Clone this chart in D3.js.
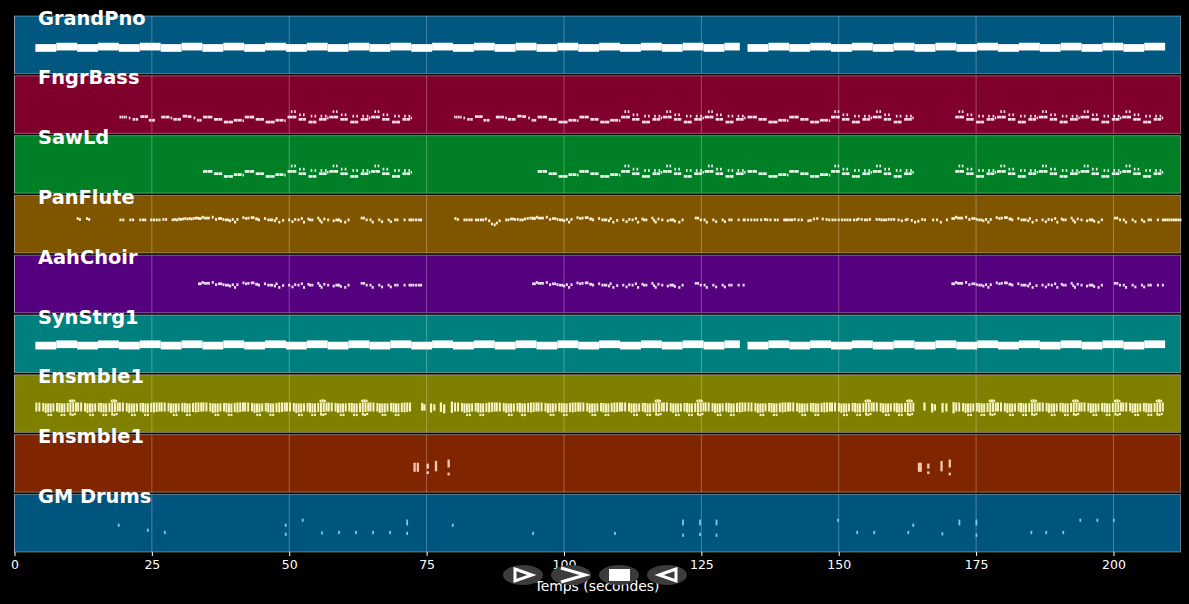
<!DOCTYPE html>
<html>
<head>
<meta charset="utf-8">
<script src="https://cdn.jsdelivr.net/npm/d3@7"></script>
<style>
html, body { margin: 0; padding: 0; background: #000; }
svg { display: block; }
text { font-family: "DejaVu Sans", sans-serif; fill: #fff; }
</style>
</head>
<body>
<div id="chart"></div>
<script>
var svgWidth = 1189;
var svgHeight = 604;

var trackNames = ["GrandPno", "FngrBass", "SawLd", "PanFlute", "AahChoir", "SynStrg1", "Ensmble1", "Ensmble1 ", "GM Drums"];
var trackColors = ["#00577f", "#7f002c", "#007f27", "#7f5500", "#55007f", "#007f7f", "#7f7f00", "#7f2600", "#00557f"];
var tickValues = [0, 25, 50, 75, 100, 125, 150, 175, 200];

// piano + strings blocks: start (s), low pitch, high pitch
var blockStarts = [3.8, 7.6, 11.4, 15.2, 19, 22.8, 26.6, 30.4, 34.2, 38, 41.8, 45.6, 49.4, 53.2, 57, 60.8, 64.6, 68.4, 72.2, 76, 79.8, 83.6, 87.4, 91.2, 95, 98.8, 102.6, 106.4, 110.2, 114, 117.8, 121.6, 125.4, 129.2,
  133.4, 137.2, 141, 144.8, 148.6, 152.4, 156.2, 160, 163.8, 167.6, 171.4, 175.2, 179, 182.8, 186.6, 190.4, 194.2, 198, 201.8, 205.6];
var blockDurs = [3.8, 3.8, 3.8, 3.8, 3.8, 3.8, 3.8, 3.8, 3.8, 3.8, 3.8, 3.8, 3.8, 3.8, 3.8, 3.8, 3.8, 3.8, 3.8, 3.8, 3.8, 3.8, 3.8, 3.8, 3.8, 3.8, 3.8, 3.8, 3.8, 3.8, 3.8, 3.8, 3.8, 2.8,
  3.8, 3.8, 3.8, 3.8, 3.8, 3.8, 3.8, 3.8, 3.8, 3.8, 3.8, 3.8, 3.8, 3.8, 3.8, 3.8, 3.8, 3.8, 3.8, 3.8];
var blockLow = [48, 51, 48, 51, 48, 51, 48, 51, 48, 51, 48, 51, 48, 51, 48, 51, 48, 51, 48, 51, 48, 51, 48, 51, 48, 51, 48, 51, 48, 51, 48, 51, 48, 51,
  48, 51, 48, 51, 48, 51, 48, 51, 48, 51, 48, 51, 48, 51, 48, 51, 48, 51, 48, 51];
var blockHigh = [65, 68, 65, 68, 65, 68, 65, 68, 65, 68, 65, 68, 65, 68, 65, 68, 65, 68, 65, 68, 65, 68, 65, 68, 65, 68, 65, 68, 65, 68, 65, 68, 65, 68,
  65, 68, 65, 68, 65, 68, 65, 68, 65, 68, 65, 68, 65, 68, 65, 68, 65, 68, 65, 68];
var synthTranspose = 3;

// bass riffs: [offset, pitch, duration]
var riffA = [[0, 36, .28], [.36, 36, .28], [.73, 36, .28], [1.1, 36, .28], [1.7, 34, .3], [2.4, 31, .45], [2.95, 31, .45], [3.8, 37, .7], [4.55, 37, .65], [5.35, 29, .5], [5.95, 29, .5],
  [7.6, 36, .75], [8.4, 36, .7], [9.3, 34, .3], [9.8, 31, .65], [10.55, 31, .65], [11.5, 38, .8], [12.4, 37, .7], [13.5, 34, .3], [14.1, 29, .4], [14.55, 29, .4]];
var riffB = [[0, 36, .85], [.92, 36, .8], [2, 31, .75], [2.8, 31, .7], [3.8, 25, .8], [4.65, 25, .8], [5.6, 29, .7], [6.35, 29, .7], [7.2, 28, .25]];
var riffC = [[0, 36, .8], [.85, 36, .75], [.6, 48, .3], [1.2, 48, .3], [2, 31, .65], [2.7, 31, .65], [2.1, 41, .3], [2.8, 41, .3], [3.8, 25, .7], [4.55, 25, .7], [4.2, 38, .3], [4.9, 38, .3],
  [5.7, 31, .7], [6.45, 31, .65], [6, 38, .3], [6.8, 38, .3], [7.2, 34, .25]];
var riffAStarts = [19.1, 80];
var riffBStarts = [34.3, 41.9, 95.2, 102.8, 133.4, 141];
var riffCStarts = [49.7, 57.3, 64.9, 110.4, 118, 125.6, 148.6, 156.2, 171.2, 178.8, 186.4, 194, 201.6];

// lead phrase (choir pitch, flute plays it an octave up): [offset, pitch]
var lead = [[0, 64], [.3, 64], [.67, 67], [1.03, 65], [1.4, 65], [1.76, 65], [2.49, 67], [3.09, 62], [3.64, 64], [4, 64], [4.43, 62], [4.9, 61], [5.28, 61], [5.64, 59], [6.13, 62], [6.55, 56], [6.98, 62],
  [8.07, 66], [8.56, 64], [8.98, 65], [9.59, 66], [9.89, 66], [10.4, 63], [10.6, 63], [10.9, 61], [12, 64], [12.6, 61], [13, 61], [13.3, 61], [13.8, 59], [14.1, 64], [14.6, 56], [15.3, 60],
  [16.4, 61], [17, 57], [17.5, 62], [18.1, 61], [18.7, 64], [19.1, 56], [19.9, 63], [20.2, 61], [20.6, 61], [21.7, 65], [22, 60], [22.3, 56], [22.8, 63], [23.5, 61], [24.5, 59], [25, 61], [25.3, 61], [25.5, 61], [25.8, 58], [26.6, 56], [27.2, 61],
  [29.6, 65], [30, 65], [30.5, 61], [31.2, 61], [31.6, 56], [32.8, 61], [33.3, 57], [34.5, 61], [34.9, 57], [35.7, 61], [36.1, 61], [37.4, 61], [38.3, 61]];
var leadStarts = [33.4, 94.2, 170.5];
var leadTail = [72, 72.4, 72.9, 73.4, 73.8];
var leadNoteDur = .38;

var fluteFillTimes = [11.3, 11.7, 13, 13.4, 19.1, 19.6, 20.9, 21.4, 22.7, 23.2, 23.6, 24.7, 25.2, 25.7, 26.2, 26.9, 27.4, 28.6, 29, 29.4, 29.8, 30.1, 30.5, 30.9, 31.3, 31.7, 32, 32.4, 32.8, 33.1,
  80.05, 80.5, 81.7, 82.1, 82.6, 83, 83.8, 84.2, 84.7, 85.1, 85.6, 86.2, 86.7, 87.2, 87.6, 88.1, 89.3, 89.7, 90.2, 90.5, 90.9, 91.4, 91.9, 92.3, 92.7, 93.2, 93.7, 94.1,
  132.7, 133.3, 133.9, 134.5, 135, 135.7, 136.4, 136.8, 137.4, 138.2, 138.7, 139.9, 140.2, 140.5, 140.9, 141.3, 141.8, 142.5, 143.1, 144.3, 144.7, 145.3, 145.9, 146.9, 147.6, 148.1, 148.7, 149.2, 149.8, 150.4, 150.9, 151.4, 151.9, 152.6, 153.1, 153.4, 154, 154.6, 155, 155.5, 156.7, 157.2, 157.6, 158, 158.4, 158.9, 159.4, 159.9, 160.7, 161.3, 162, 162.3, 163.1, 163.7, 164.3, 165, 165.5, 167, 167.7, 168.4, 169.5,
  209.2, 209.6, 210, 210.4, 210.8, 211.2, 211.6, 212];
var fluteFillPitch = [76, 74, 76, 74, 73, 73, 73, 73, 73, 73, 73, 73, 73, 73, 73, 74, 74, 73, 74, 73, 75, 74, 75, 76, 75, 76, 75, 76, 77, 77,
  76, 74, 73, 73, 73, 73, 73, 73, 73, 73, 75, 71, 64, 62, 66, 71, 73, 73, 75, 75, 74, 74, 73, 73, 75, 76, 77, 77,
  73, 73, 73, 73, 73, 73, 74, 73, 73, 73, 73, 73, 73, 73, 73, 73, 74, 73, 73, 71, 72, 75, 76, 75, 74, 73, 73, 73, 73, 73, 73, 73, 73, 73, 73, 75, 74, 73, 73, 74, 74, 74, 73, 73, 73, 74, 74, 74, 73, 71, 73, 74, 72, 68, 70, 74, 73, 73, 73, 68, 73, 73, 73,
  73, 73, 73, 73, 73, 73, 73, 73];

// strings stripes: [offset, low pitch, high pitch], every 7.6 s unit
var stringUnit = [[0, 46, 66], [.55, 46, 66], [1.25, 46, 65], [1.7, 43, 64], [2.15, 44, 64], [2.6, 44, 64], [3.1, 46, 64], [3.75, 46, 65], [4.2, 44, 65], [4.65, 44, 64], [5.1, 44, 64], [5.7, 45, 65], [6.2, 44, 66], [6.7, 45, 66], [7.2, 46, 66]];
var stringLows = [[2.2, 36, 41], [2.7, 36, 41], [4.6, 36, 41], [5.1, 36, 41]];
var stringBump = [[6.1, 67, 72], [6.5, 66, 73], [6.9, 67, 72], [6.2, 37, 43], [6.6, 36, 41], [7, 38, 43]];
var stringStarts = [3.8, 11.4, 19, 26.6, 34.2, 41.8, 49.4, 57, 64.6, 80, 87.6, 95.2, 102.8, 110.4, 118, 125.6, 133.4, 141, 148.6, 156.2, 171.2, 178.8, 186.4, 194, 201.6];
var stringBumpStarts = [3.8, 11.4, 49.4, 57, 110.4, 118, 148.6, 156.2, 171.2, 178.8, 186.4, 194, 201.6];
var stringSparse = [[74, 48, 65], [74.4, 48, 62], [75.6, 44, 64], [76.2, 48, 62], [77.4, 45, 66], [78, 42, 62], [79.4, 43, 68], [165.4, 48, 66], [166.8, 44, 64], [167.3, 48, 62], [168.7, 44, 65], [169.4, 46, 64], [170.7, 42, 67]];

// second Ensmble1: [time, low, high]
var ens2Stripes = [[72.6, 45, 65], [73.2, 45, 65], [75, 52, 63], [75, 40, 46], [76.5, 46, 69], [78.8, 54.5, 72], [78.8, 37, 43], [164.4, 45, 65], [164.7, 45, 65], [166.1, 52, 63], [166.1, 40, 46], [168.5, 46, 69], [170, 54.5, 72], [170, 37, 43]];

var drumTimes = [18.8, 24.1, 27.2, 49.2, 49.2, 52.3, 55.8, 58.9, 62, 65.1, 68.2, 71.3, 71.3, 71.3, 79.6, 94.2, 109.1, 121.5, 121.5, 121.5, 124.6, 124.6, 124.6, 127.6, 127.6, 127.6, 149.7, 153.2, 156.3, 162.5, 163.4, 168.7, 171.8, 171.8, 174.9, 174.9, 174.9, 184.9, 187.6, 190.7, 193.8, 196.9, 199.9];
var drumPitch = [59, 48, 43, 59, 39, 70, 42, 43, 43, 43, 43, 68, 62, 41, 59, 41, 41, 68, 62, 37, 68, 62, 39, 68, 62, 37, 70, 43, 43, 43, 59, 40, 68, 62, 68, 62, 37, 43, 43, 43, 70, 70, 70];

var x = d3.scaleLinear().domain([0, 212.2]).range([14.5, 1180.5]);
var bands = d3.scaleBand().domain(trackNames).range([16, 552]).paddingInner(0.037);
var y = d3.scaleLinear().domain([0, 127]).range([bands.bandwidth(), 0]);

var svg = d3.select("#chart").append("svg")
  .attr("width", svgWidth)
  .attr("height", svgHeight)
  .style("background", "#000");

function expand(riff, starts, shift, half) {
  var out = [];
  starts.forEach(function(s) {
    riff.forEach(function(n) {
      out.push({ t: s + n[0], lo: n[1] + shift - half, hi: n[1] + shift + half, d: n[2] });
    });
  });
  return out;
}

function stripes(unit, starts, w) {
  var out = [];
  starts.forEach(function(s) {
    unit.forEach(function(n) {
      out.push({ t: s + n[0], lo: n[1], hi: n[2], d: w });
    });
  });
  return out;
}

function blocks(shift) {
  return blockStarts.map(function(s, i) {
    return { t: s, lo: blockLow[i] + shift, hi: blockHigh[i] + shift, d: blockDurs[i] };
  });
}

var bassNotes = expand(riffA, riffAStarts, 0, 3).concat(expand(riffB, riffBStarts, 0, 3), expand(riffC, riffCStarts, 0, 3));
var sawNotes = expand(riffB, riffBStarts, 12, 3).concat(expand(riffC, riffCStarts, 12, 3));

var leadRiff = lead.map(function(n) { return [n[0], n[1], leadNoteDur]; });
var choirNotes = expand(leadRiff, leadStarts, 0, 3).concat(leadTail.map(function(t) { return { t: t, lo: 58, hi: 64, d: leadNoteDur }; }));
var fluteNotes = expand(leadRiff, leadStarts, 12, 3)
  .concat(leadTail.map(function(t) { return { t: t, lo: 70, hi: 76, d: leadNoteDur }; }))
  .concat(fluteFillTimes.map(function(t, i) { return { t: t, lo: fluteFillPitch[i] - 3, hi: fluteFillPitch[i] + 3, d: leadNoteDur }; }));

var stringNotes = stripes(stringUnit, stringStarts, .36)
  .concat(stripes(stringLows, stringStarts, .36), stripes(stringBump, stringBumpStarts, .36),
    stringSparse.map(function(n) { return { t: n[0], lo: n[1], hi: n[2], d: .4 }; }));

var ens2Notes = ens2Stripes.map(function(n) { return { t: n[0], lo: n[1], hi: n[2], d: .42 }; });
var drumNotes = drumTimes.map(function(t, i) { return { t: t, lo: drumPitch[i] - 3.5, hi: drumPitch[i] + 3.5, d: .32 }; });

var trackNotes = [blocks(0), bassNotes, sawNotes, fluteNotes, choirNotes, blocks(synthTranspose), stringNotes, ens2Notes, drumNotes];
var noteColors = ["#fff", "#fbdde6", "#e8f8ec", "#fbf0d4", "#eedcf7", "#fff", "#f8f6c8", "#f8c9b0", "#7ccbf0"];

trackNames.forEach(function(name, i) {
  var g = svg.append("g").attr("transform", "translate(0," + bands(name) + ")");

  g.append("rect")
    .attr("x", x.range()[0])
    .attr("width", x.range()[1] - x.range()[0])
    .attr("height", bands.bandwidth())
    .attr("fill", trackColors[i])
    .attr("stroke", "#fff")
    .attr("stroke-opacity", .38)
    .attr("stroke-width", 1);

  g.selectAll(".grid").data(tickValues).enter().append("line")
    .attr("x1", d => x(d))
    .attr("x2", d => x(d))
    .attr("y2", bands.bandwidth())
    .attr("stroke", "#fff")
    .attr("stroke-opacity", .28)
    .attr("stroke-width", 1);

  g.selectAll(".note").data(trackNotes[i]).enter().append("rect")
    .attr("x", d => x(d.t))
    .attr("y", d => y(d.hi))
    .attr("width", d => x(d.t + d.d) - x(d.t))
    .attr("height", d => y(d.lo) - y(d.hi))
    .attr("fill", noteColors[i]);
});

// labels go over the panels, so they come last
trackNames.forEach(function(name) {
  svg.append("text")
    .attr("x", 38)
    .attr("y", bands(name) + 8.6)
    .style("font-size", "19.4px")
    .style("font-weight", "bold")
    .text(name.trim());
});

var axis = svg.append("g")
  .attr("transform", "translate(0,552)")
  .call(d3.axisBottom(x).tickValues(tickValues).tickSize(4).tickPadding(4).tickFormat(d3.format("d")));
axis.select(".domain").remove();
axis.selectAll("line").attr("stroke", "#fff");
axis.selectAll("text").style("font-size", "12.5px").attr("fill", "#fff");

svg.append("text")
  .attr("x", 597)
  .attr("y", 591)
  .attr("text-anchor", "middle")
  .style("font-size", "13.9px")
  .text("Temps (secondes)");

// player buttons sit on top of the axis text
var buttons = [523, 571, 619, 667];
svg.selectAll(".btn").data(buttons).enter().append("ellipse")
  .attr("cx", d => d)
  .attr("cy", 575)
  .attr("rx", 20)
  .attr("ry", 10)
  .attr("fill", "#3c3c3c");

var line = d3.line();
svg.append("path").attr("d", line([[515, 569], [532, 575], [515, 581]]) + "Z").attr("fill", "none").attr("stroke", "#fff").attr("stroke-width", 3);
svg.append("path").attr("d", line([[561, 568], [585, 575], [561, 582]])).attr("fill", "none").attr("stroke", "#fff").attr("stroke-width", 3.2);
svg.append("rect").attr("x", 609).attr("y", 569).attr("width", 21).attr("height", 12).attr("fill", "#fff");
svg.append("path").attr("d", line([[676, 569], [659, 575], [676, 581]]) + "Z").attr("fill", "none").attr("stroke", "#fff").attr("stroke-width", 3);
</script>
</body>
</html>
